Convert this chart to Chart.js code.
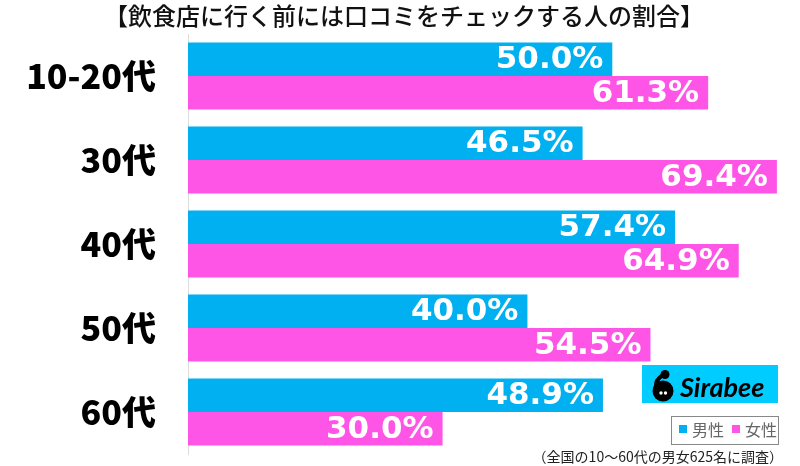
<!DOCTYPE html>
<html>
<head>
<meta charset="utf-8">
<script src="https://cdn.jsdelivr.net/npm/chart.js@4/dist/chart.umd.min.js"></script>
<style>
  html, body { margin: 0; padding: 0; background: #fff; }
  #wrap { width: 800px; height: 466px; position: relative; }
</style>
</head>
<body>
<div id="wrap"><canvas id="c"></canvas></div>
<script>
const title = '【飲食店に行く前には口コミをチェックする人の割合】';
const categories = ['10-20代', '30代', '40代', '50代', '60代'];
const seriesNames = ['男性', '女性'];
const male = [50.0, 46.5, 57.4, 40.0, 48.9];
const female = [61.3, 69.4, 64.9, 54.5, 30.0];
const note = '（全国の10〜60代の男女625名に調査）';

const CYAN = '#00b0f0';
const PINK = '#ff55e6';

// white value labels at the end of each bar
const valueLabels = {
  id: 'valueLabels',
  afterDatasetsDraw(chart) {
    const ctx = chart.ctx;
    ctx.save();
    ctx.font = 'bold 31px "DejaVu Sans"';
    ctx.fillStyle = '#fff';
    ctx.textAlign = 'right';
    ctx.textBaseline = 'middle';
    chart.data.datasets.forEach((ds, i) => {
      chart.getDatasetMeta(i).data.forEach((bar, j) => {
        ctx.fillText(ds.data[j].toFixed(1) + '%', bar.x - 9, bar.y + 1);
      });
    });
    ctx.restore();
  }
};

// title, logo, legend box and footnote
const extras = {
  id: 'extras',
  afterDraw(chart) {
    const ctx = chart.ctx;
    ctx.save();
    ctx.fillStyle = '#111';
    ctx.textAlign = 'center';
    ctx.textBaseline = 'middle';
    ctx.font = '500 24px "Noto Sans CJK JP"';
    ctx.fillText(title, 404, 16);

    // Sirabee logo
    ctx.fillStyle = '#00ccff';
    ctx.fillRect(642, 365, 136, 38);
    ctx.fillStyle = '#000';
    ctx.beginPath();
    ctx.arc(663, 391, 10.5, 0, Math.PI * 2);
    ctx.fill();
    ctx.beginPath();
    ctx.arc(665, 374.5, 4.5, 0, Math.PI * 2);
    ctx.fill();
    ctx.strokeStyle = '#000';
    ctx.lineWidth = 4;
    ctx.beginPath();
    ctx.moveTo(663, 375);
    ctx.quadraticCurveTo(655, 380, 656, 387);
    ctx.stroke();
    ctx.fillStyle = '#fff';
    ctx.beginPath();
    ctx.arc(661, 393, 1.7, 0, Math.PI * 2);
    ctx.arc(665.5, 393, 1.7, 0, Math.PI * 2);
    ctx.fill();
    ctx.fillStyle = '#000';
    ctx.textAlign = 'left';
    ctx.textBaseline = 'alphabetic';
    ctx.font = 'italic bold 27px Lato';
    ctx.fillText('Sirabee', 680, 397);

    // legend box
    ctx.strokeStyle = '#888';
    ctx.lineWidth = 1;
    ctx.strokeRect(671.5, 416.5, 107, 28);
    ctx.fillStyle = CYAN;
    ctx.fillRect(679, 425, 8, 8);
    ctx.fillStyle = PINK;
    ctx.fillRect(732, 425, 8, 8);
    ctx.fillStyle = '#666';
    ctx.textBaseline = 'middle';
    ctx.font = '16px "Noto Sans CJK JP"';
    ctx.fillText(seriesNames[0], 692, 430);
    ctx.fillText(seriesNames[1], 745, 430);

    // footnote
    ctx.fillStyle = '#222';
    ctx.textAlign = 'right';
    ctx.font = '14px "Noto Sans CJK JP"';
    ctx.fillText(note, 783, 457);
    ctx.restore();
  }
};

new Chart(document.getElementById('c'), {
  type: 'bar',
  data: {
    labels: categories,
    datasets: [
      { label: seriesNames[0], data: male, backgroundColor: CYAN },
      { label: seriesNames[1], data: female, backgroundColor: PINK }
    ]
  },
  options: {
    indexAxis: 'y',
    responsive: true,
    maintainAspectRatio: false,
    animation: false,
    layout: { padding: { top: 34, right: 18, bottom: 12, left: 0 } },
    datasets: { bar: { categoryPercentage: 0.8, barPercentage: 1.0 } },
    scales: {
      x: { display: false, min: 0, max: 70 },
      y: {
        afterFit(scale) {
          scale.width = 188;
          scale.paddingTop = 0;
          scale.paddingBottom = 0;
        },
        grid: { display: false },
        border: { display: true, color: '#dcdcdc', width: 1 },
        ticks: {
          padding: 24,
          color: '#000',
          font: { family: '"Noto Sans CJK JP"', weight: '900', size: 34 }
        }
      }
    },
    plugins: {
      legend: { display: false },
      tooltip: { enabled: false }
    }
  },
  plugins: [valueLabels, extras]
});
</script>
</body>
</html>
